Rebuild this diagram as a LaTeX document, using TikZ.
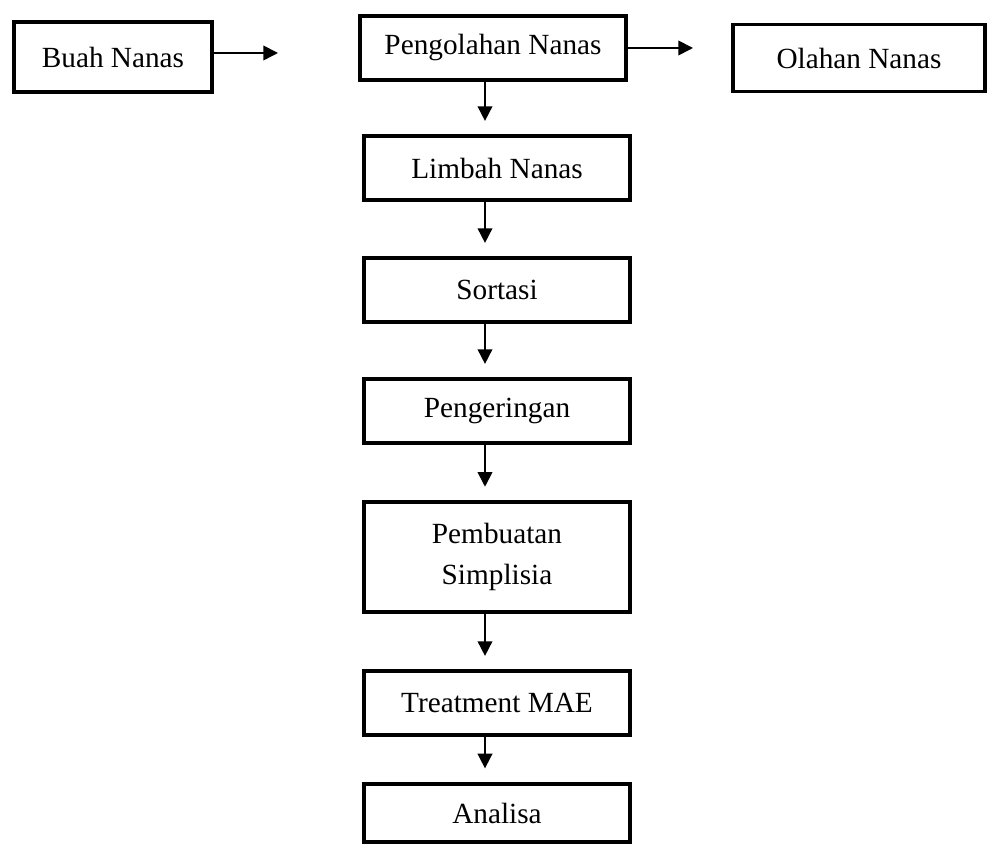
\documentclass[tikz,border=0pt]{standalone}
\usepackage{fontspec}
\setmainfont{Liberation Serif}
\usetikzlibrary{positioning,arrows.meta}

\begin{document}
\begin{tikzpicture}[
    x=0.41pt, y=-0.41pt,
    box/.style={draw, line width=1.6pt, align=center, inner sep=0pt,
                font=\fontsize{12}{16.5}\selectfont,
                minimum width=109pt, minimum height=26pt},
    arr/.style={-{Triangle[length=6pt,width=6pt]}, line width=0.7pt},
    down/.style={arr, shorten >=5.5pt}
  ]
    \useasboundingbox (0,0) rectangle (991,848);

    % top row
    \node[box, minimum width=81pt, minimum height=28.5pt] (buah) at (113,57) {Buah Nanas};
    \node[box] (olah) at (493,48) {Pengolahan Nanas};
    \node[box, minimum width=103pt, minimum height=27.5pt] (hasil) at (859,58) {Olahan Nanas};
    \coordinate (buahend) at (278,53);
    \coordinate (olahend) at (693,48);
    \draw[arr] (buah.east |- buahend) -- (buahend);
    \draw[arr] (olah.east) -- (olahend);

    % main column
    \coordinate (axis) at (485,0);
    \node[box] (limbah) at (497,168) {Limbah Nanas};
    \node[box] (sortasi) at (497,290) {Sortasi};
    \node[box] (kering) at (497,411) {Pengeringan};
    \node[box, minimum height=45pt] (simplisia) at (497,557) {Pembuatan\\Simplisia};
    \node[box] (mae) at (497,703) {Treatment MAE};
    \node[box, minimum height=24pt] (analisa) at (497,813) {Analisa};

    \draw[down] (olah.south -| axis) -- (limbah.north -| axis);
    \draw[down] (limbah.south -| axis) -- (sortasi.north -| axis);
    \draw[down] (sortasi.south -| axis) -- (kering.north -| axis);
    \draw[down] (kering.south -| axis) -- (simplisia.north -| axis);
    \draw[down] (simplisia.south -| axis) -- (mae.north -| axis);
    \draw[down] (mae.south -| axis) -- (analisa.north -| axis);
  \end{tikzpicture}
\end{document}
